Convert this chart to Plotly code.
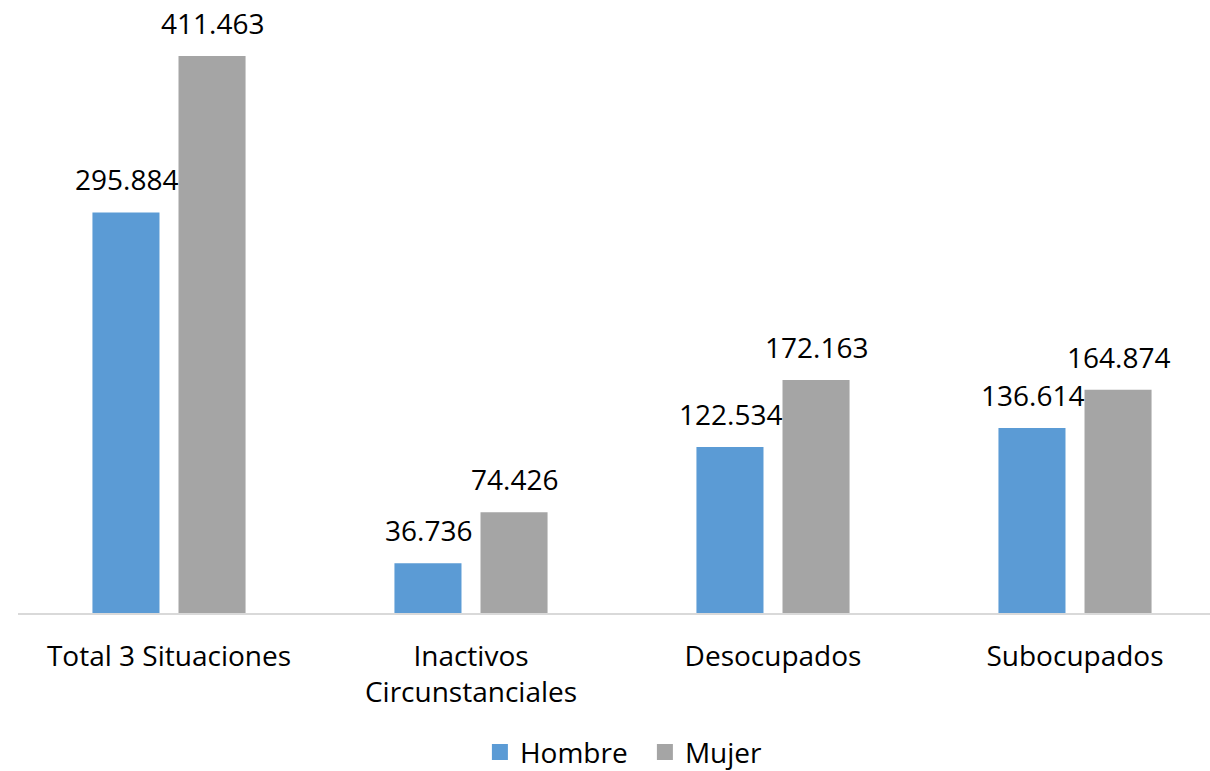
import plotly.graph_objects as go

categories = ["Total 3 Situaciones", "Inactivos<br>Circunstanciales", "Desocupados", "Subocupados"]
hombre = [295884, 36736, 122534, 136614]
mujer = [411463, 74426, 172163, 164874]
series_names = ["Hombre", "Mujer"]
colors = ["#5B9BD5", "#A5A5A5"]

def fmt(v):
    return f"{v:,}".replace(",", ".")

x = list(range(len(categories)))
FONT = "Open Sans"

fig = go.Figure()
for name, vals, col in zip(series_names, [hombre, mujer], colors):
    fig.add_trace(go.Bar(
        x=x, y=vals, name=name,
        marker=dict(color=col, line=dict(width=0)),
        cliponaxis=False,
        showlegend=False,
    ))
# value labels above bars
for s, vals in enumerate([hombre, mujer]):
    for xi, v in zip(x, vals):
        fig.add_annotation(
            x=xi, y=v, xref="x", yref="y", text=fmt(v), showarrow=False,
            xanchor="center", yanchor="bottom",
            xshift=-43 if s == 0 else 43, yshift=12,
            font=dict(family=FONT, size=28, color="#000000"),
        )
# legend entries with larger square swatches
for name, col in zip(series_names, colors):
    fig.add_trace(go.Scatter(
        x=[None], y=[None], mode="markers", name=name,
        marker=dict(symbol="square", size=18, color=col),
        showlegend=True,
    ))

fig.update_layout(
    width=1210, height=771,
    margin=dict(l=18, r=0, t=18, b=158, autoexpand=False),
    paper_bgcolor="white", plot_bgcolor="white",
    barmode="group", bargap=0.430, bargroupgap=0.221,
    font=dict(family=FONT, size=28, color="#000000"),
    showlegend=True,
    legend=dict(orientation="h", x=0.3875, xanchor="left", y=-0.234, yanchor="middle",
                font=dict(family=FONT, size=28, color="#000000"),
                itemsizing="trace", itemwidth=30, entrywidth=120),
    xaxis=dict(
        tickmode="array", tickvals=x, ticktext=categories,
        range=[-0.5, 3.447], showgrid=False, zeroline=False,
        showline=True, linecolor="#D9D9D9", linewidth=2,
        ticks="", ticklabelstandoff=17, automargin=False,
        tickfont=dict(family=FONT, size=28, color="#000000"),
    ),
    yaxis=dict(range=[0, 439500], visible=False, showgrid=False, zeroline=False),
)

fig.write_html("out.html", config={"displayModeBar": False},
               post_script="document.body.style.margin='0';")
